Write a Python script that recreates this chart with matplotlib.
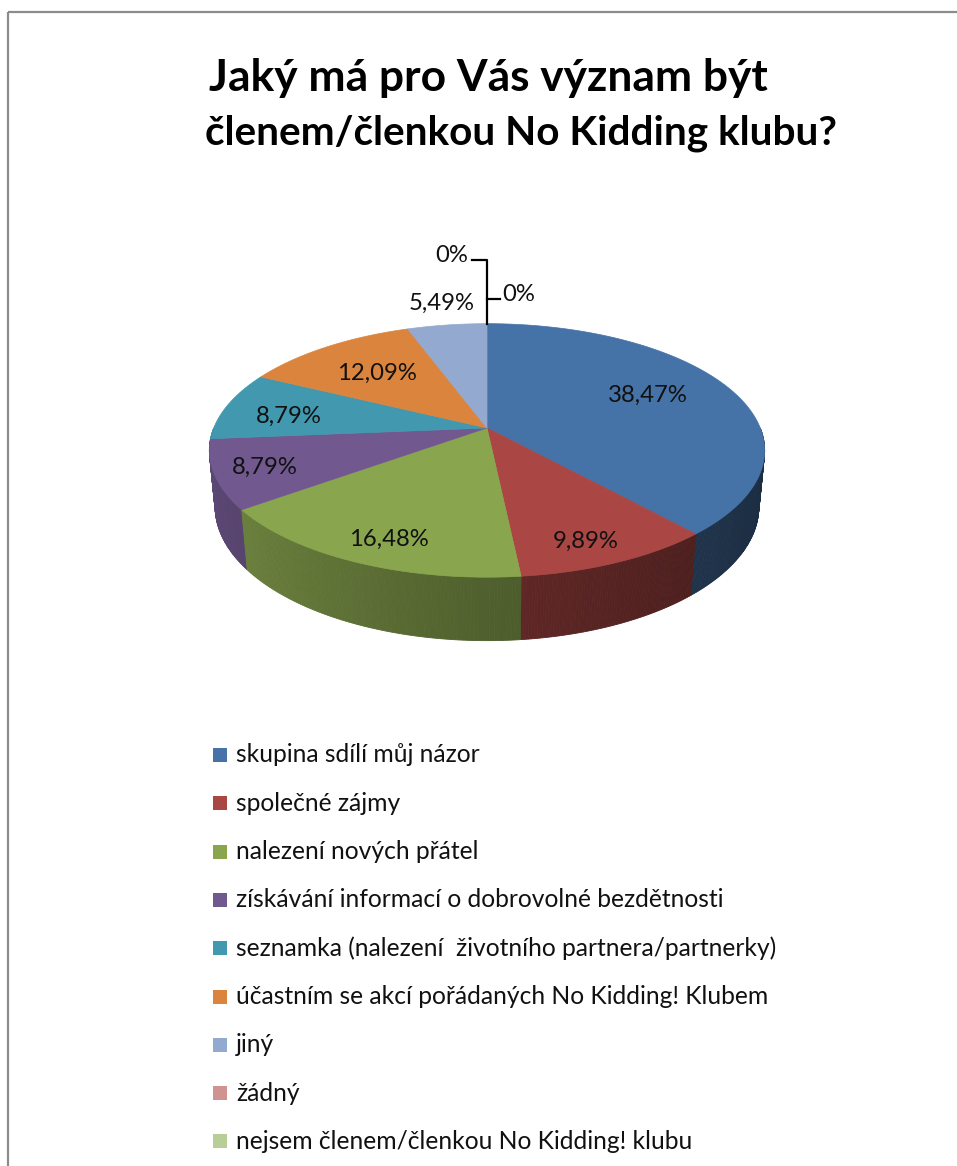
import numpy as np
import matplotlib
matplotlib.use("Agg")
import matplotlib.pyplot as plt
from matplotlib.patches import Polygon, Rectangle
from matplotlib.colors import to_rgb

# ---------------- data ----------------
title_lines = ["Jaký má pro Vás význam být", "členem/členkou No Kidding klubu?"]
categories = [
    "skupina sdílí můj názor",
    "společné zájmy",
    "nalezení nových přátel",
    "získávání informací o dobrovolné bezdětnosti",
    "seznamka (nalezení  životního partnera/partnerky)",
    "účastním se akcí pořádaných No Kidding! Klubem",
    "jiný",
    "žádný",
    "nejsem členem/členkou No Kidding! klubu",
]
values = [38.47, 9.89, 16.48, 8.79, 8.79, 12.09, 5.49, 0.0, 0.0]
value_labels = ["38,47%", "9,89%", "16,48%", "8,79%", "8,79%", "12,09%", "5,49%", "0%", "0%"]
colors = ["#4572A7", "#AA4643", "#89A54E", "#71588F", "#4198AF",
          "#DB843D", "#93A9CF", "#D19392", "#B9CD96"]

# label anchors in pie-plane coordinates (units of radius)
label_plane = [(0.62, 0.30), (0.31, -0.78), (-0.31, -0.77), (-0.77, -0.29),
               (-0.74, 0.115), (-0.44, 0.50), (-0.204, 1.256)]

# ---------------- layout ----------------
W, H = 957, 1166
FONT = "Lato"
CX, CY = 487, 428          # pie centre on screen (px)
THETA = np.deg2rad(26.7)   # view elevation
DIST = 5.05                # camera distance (radii)
FOC = 1380                 # focal length (px)
THICK = 0.232              # pie thickness (radii)

fig = plt.figure(figsize=(W / 100, H / 100), dpi=100)
ax = fig.add_axes([0, 0, 1, 1])
ax.set_xlim(0, W)
ax.set_ylim(H, 0)
ax.axis("off")
renderer = fig.canvas.get_renderer()


def proj(x, y, z):
    depth = DIST + y * np.cos(THETA) - z * np.sin(THETA)
    X = CX + FOC * x / depth
    Y = CY - FOC * (y * np.sin(THETA) + z * np.cos(THETA)) / depth
    return X, Y


def fit_size(text, width, **kw):
    t = ax.text(0, 0, text, fontsize=20, **kw)
    w = t.get_window_extent(renderer).width
    t.remove()
    return 20 * width / w


# border of chart area
ax.plot([8, 8], [H + 5, 12], color="#8c8c8c", lw=1.6, solid_capstyle="butt")
ax.plot([8, W + 5], [12, 12], color="#8c8c8c", lw=1.6, solid_capstyle="butt")

# ---------------- pie geometry ----------------
vals = np.array(values)
cum = np.concatenate([[0], np.cumsum(vals)]) / vals.sum()
starts = 90 - 360 * cum[:-1]
ends = 90 - 360 * cum[1:]


def shade(a_deg):
    u = np.deg2rad(a_deg + 180.0)
    return 0.40 + 0.42 * ((1 + np.cos(u)) / 2) ** 1.2


# side strips (front half), far first
strips = []
for k, (a0, a1) in enumerate(zip(starts, ends)):
    if vals[k] <= 0:
        continue
    lo, hi = max(a1, -180.0), min(a0, 0.0)
    if hi <= lo:
        continue
    n = max(2, int((hi - lo) / 0.5) + 1)
    angs = np.linspace(lo, hi, n)
    for i in range(n - 1):
        strips.append((k, angs[i], angs[i + 1]))
strips.sort(key=lambda s: -abs((s[1] + s[2]) / 2 + 90))
for k, b0, b1 in strips:
    r0, r1 = np.deg2rad(b0), np.deg2rad(b1)
    pts = [proj(np.cos(r0), np.sin(r0), 0), proj(np.cos(r1), np.sin(r1), 0),
           proj(np.cos(r1), np.sin(r1), -THICK), proj(np.cos(r0), np.sin(r0), -THICK)]
    c = np.array(to_rgb(colors[k])) * shade((b0 + b1) / 2)
    ax.add_patch(Polygon(pts, closed=True, facecolor=c, edgecolor=c, lw=0.6))

# top faces
for k, (a0, a1) in enumerate(zip(starts, ends)):
    if vals[k] <= 0:
        continue
    angs = np.deg2rad(np.linspace(a0, a1, 200))
    xs, ys = proj(np.cos(angs), np.sin(angs), 0)
    pts = [proj(0, 0, 0)] + list(zip(xs, ys))
    ax.add_patch(Polygon(pts, closed=True, facecolor=colors[k], edgecolor=colors[k], lw=0.5))

# ---------------- data labels ----------------
lab_size = fit_size("38,47%", 80, family=FONT)
for k, (px, py) in enumerate(label_plane):
    X, Y = proj(px, py, 0)
    ax.text(X, Y + 8.5, value_labels[k], fontsize=lab_size, family=FONT,
            color="#111111", ha="center", va="baseline")

# zero-value slices: leader lines from top of pie
zx, zy = proj(np.cos(np.deg2rad(ends[-1])), np.sin(np.deg2rad(ends[-1])), 0)
ax.plot([zx - 15, zx, zx], [zy - 64, zy - 64, zy], color="black", lw=1.6)
ax.plot([zx, zx + 13], [zy - 25, zy - 25], color="black", lw=1.6)
ax.text(zx - 19, zy - 70 + 8.5, value_labels[7], fontsize=lab_size, family=FONT,
        color="#111111", ha="right", va="baseline")
ax.text(zx + 15, zy - 31 + 8.5, value_labels[8], fontsize=lab_size, family=FONT,
        color="#111111", ha="left", va="baseline")

# ---------------- title ----------------
tsize1 = fit_size(title_lines[0], 557, family=FONT, fontweight="bold")
tsize2 = fit_size(title_lines[1], 631, family=FONT, fontweight="bold")
ax.text(209, 91, title_lines[0], fontsize=tsize1, family=FONT, fontweight="bold",
        ha="left", va="baseline", color="black")
ax.text(205, 144, title_lines[1], fontsize=tsize2, family=FONT, fontweight="bold",
        ha="left", va="baseline", color="black")

# ---------------- legend ----------------
leg_size = fit_size(categories[4], 542, family=FONT)
row0, dy = 755, 48.3
for k, name in enumerate(categories):
    yc = row0 + k * dy
    ax.add_patch(Rectangle((213, yc - 7), 14, 14, facecolor=colors[k], edgecolor="none"))
    ax.text(236, yc + 7.5, name, fontsize=leg_size, family=FONT, color="#111111",
            ha="left", va="baseline")

fig.savefig("out.png", dpi=100)
